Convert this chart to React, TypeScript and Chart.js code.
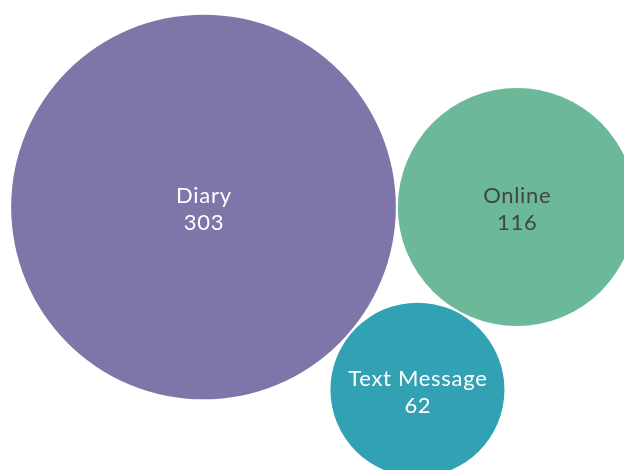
import React, { useEffect, useRef } from "react";
import { Chart, registerables } from "chart.js";

Chart.register(...registerables);

const categories = ["Diary", "Online", "Text Message"];
const values = [303, 116, 62];
const colors = ["#7f75a9", "#6cb99a", "#31a1b3"];
const labelColors = ["#ffffff", "#444444", "#ffffff"];

const W = 624;
const H = 470;
const K = 11.05; // px per sqrt(unit)
const GAP = 2;
const ANCHOR_X = 203.5;
const ANCHOR_Y = 207;

function radiusOf(v: number) {
  return K * Math.sqrt(v);
}

// front-chain packing of three circles: A, B tangent to the right, C tangent to both below
function packLayout(vals: number[]) {
  const [ra, rb, rc] = vals.map(radiusOf);
  const dAB = ra + rb + GAP;
  const dAC = ra + rc + GAP;
  const dBC = rb + rc + GAP;
  const cx = (dAB * dAB + dAC * dAC - dBC * dBC) / (2 * dAB);
  const cy = Math.sqrt(dAC * dAC - cx * cx);
  return [
    { x: 0, y: 0 },
    { x: dAB, y: 0 },
    { x: cx, y: cy },
  ];
}

const labelPlugin = {
  id: "bubbleLabels",
  afterDatasetsDraw(chart: any) {
    const ctx = chart.ctx;
    const meta = chart.getDatasetMeta(0);
    ctx.save();
    ctx.font = "22px Lato, 'Open Sans', sans-serif";
    ctx.textAlign = "center";
    ctx.textBaseline = "middle";
    try {
      (ctx as any).letterSpacing = "0.7px";
    } catch (e) {}
    meta.data.forEach((el: any, i: number) => {
      ctx.fillStyle = labelColors[i];
      ctx.fillText(categories[i], el.x + 0.4, el.y - 11);
      ctx.fillText(String(values[i]), el.x + 0.4, el.y + 16);
    });
    ctx.restore();
  },
};

export default function App() {
  const ref = useRef<HTMLCanvasElement | null>(null);
  useEffect(() => {
    if (!ref.current) return;
    const pos = packLayout(values);
    const chart = new Chart(ref.current, {
      type: "bubble",
      data: {
        labels: categories,
        datasets: [
          {
            data: values.map((v, i) => ({ x: pos[i].x, y: pos[i].y, r: radiusOf(v) })),
            backgroundColor: colors,
            borderWidth: 0,
            hoverBorderWidth: 0,
            radius: (c: any) => radiusOf(values[c.dataIndex]),
            clip: false,
          } as any,
        ],
      },
      options: {
        responsive: false,
        animation: false,
        layout: { padding: 0, autoPadding: false },
        plugins: { legend: { display: false }, tooltip: { enabled: false } },
        events: [],
        scales: {
          x: { type: "linear", display: false, min: -ANCHOR_X, max: W - ANCHOR_X },
          y: { type: "linear", display: false, reverse: true, min: -ANCHOR_Y, max: H - ANCHOR_Y },
        },
      },
      plugins: [labelPlugin],
    });
    return () => chart.destroy();
  }, []);
  return (
    <div style={{ position: "fixed", left: 0, top: 0, width: W, height: H, background: "#fff" }}>
      <canvas ref={ref} width={W} height={H} style={{ display: "block" }} />
    </div>
  );
}
